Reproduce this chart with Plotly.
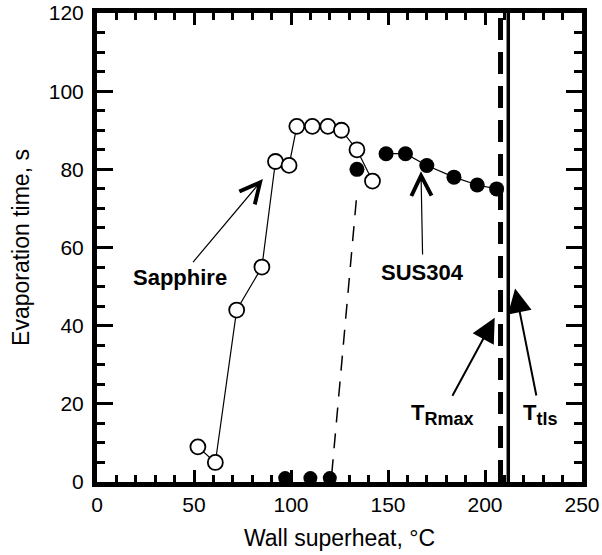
import plotly.graph_objects as go

# ---- data ----
sapphire_x = [52, 61, 72, 85, 92, 99, 103, 111, 119, 126, 134, 142]
sapphire_y = [9, 5, 44, 55, 82, 81, 91, 91, 91, 90, 85, 77]

sus_iso_x = [134]
sus_iso_y = [80]
sus_x = [149, 159, 170, 184, 196, 206]
sus_y = [84, 84, 81, 78, 76, 75]

sus_zero_x = [97, 110, 120]
sus_zero_y = [1, 1, 1]

trans_x = [121, 134]
trans_y = [2, 74]

t_rmax = 208
t_tls = 212
vline_y = [0, 120]

x_ticks = [0, 50, 100, 150, 200, 250]
y_ticks = [0, 20, 40, 60, 80, 100, 120]

FONT = "Liberation Sans, Arial, sans-serif"

fig = go.Figure()

# thin dashed transition line
fig.add_trace(go.Scatter(x=trans_x, y=trans_y, mode="lines",
                         line=dict(color="black", width=1.5, dash="15px,11px"),
                         showlegend=False, hoverinfo="skip"))

# T_Rmax dashed thick vertical
fig.add_trace(go.Scatter(x=[t_rmax, t_rmax], y=vline_y, mode="lines",
                         line=dict(color="black", width=5, dash="22px,12px"),
                         showlegend=False, hoverinfo="skip"))
# T_tls solid vertical
fig.add_trace(go.Scatter(x=[t_tls, t_tls], y=vline_y, mode="lines",
                         line=dict(color="black", width=3.5),
                         showlegend=False, hoverinfo="skip"))

# SUS304 filled markers
fig.add_trace(go.Scatter(x=sus_x, y=sus_y, mode="lines+markers",
                         line=dict(color="black", width=1.2),
                         marker=dict(symbol="circle", size=15, color="black"),
                         showlegend=False, cliponaxis=False))
fig.add_trace(go.Scatter(x=sus_iso_x, y=sus_iso_y, mode="markers",
                         marker=dict(symbol="circle", size=15, color="black"),
                         showlegend=False, cliponaxis=False))
fig.add_trace(go.Scatter(x=sus_zero_x, y=sus_zero_y, mode="markers",
                         marker=dict(symbol="circle", size=14, color="black"),
                         showlegend=False, cliponaxis=False))

# Sapphire open markers
fig.add_trace(go.Scatter(x=sapphire_x, y=sapphire_y, mode="lines+markers",
                         line=dict(color="black", width=1.2),
                         marker=dict(symbol="circle", size=15, color="white",
                                     line=dict(color="black", width=1.8)),
                         showlegend=False, cliponaxis=False))


def arrow(text, lx, ly, hx, hy, head, size, width, standoff, fsize):
    fig.add_annotation(x=hx, y=hy, ax=lx, ay=ly, xref="x", yref="y",
                       axref="x", ayref="y", showarrow=True, text=text,
                       arrowhead=head, arrowsize=size, arrowwidth=width,
                       arrowcolor="black", startstandoff=standoff,
                       font=dict(family=FONT, size=fsize, color="black"))

arrow("<b>Sapphire</b>", 42.8, 52.3, 85.5, 77.5, 5, 3.3, 1.2, 2, 22)
arrow("<b>SUS304</b>", 168, 53.6, 167, 79.5, 5, 3.3, 1.2, 4, 22)
arrow("<b>T<sub><span style='font-size:18px'>Rmax</span></sub></b>",
      178, 17.3, 205, 42, 2, 2.4, 2.0, 3, 22)
arrow("<b>T<sub><span style='font-size:18px'>tls</span></sub></b>",
      228.4, 17.3, 215.5, 49.5, 2, 2.4, 2.0, 3, 22)

axis_common = dict(showline=True, linecolor="black", linewidth=5, mirror="allticks",
                   ticks="inside", tickwidth=3, tickcolor="black",
                   showgrid=False, zeroline=False, automargin=False,
                   tickfont=dict(family=FONT, size=21, color="black"))

fig.update_xaxes(range=[0, 250], tickvals=x_ticks, ticklen=12,
                 minor=dict(ticks="inside", ticklen=7, tickwidth=3, tickcolor="black", dtick=10, tick0=0),
                 title=dict(text="Wall superheat, °C", font=dict(family=FONT, size=23, color="black"), standoff=16),
                 **axis_common)
fig.update_yaxes(range=[0, 120], tickvals=y_ticks, ticklen=16, ticklabelstandoff=4,
                 minor=dict(ticks="inside", ticklen=8, tickwidth=3, tickcolor="black", dtick=5, tick0=0),
                 title=dict(text="Evaporation time, s", font=dict(family=FONT, size=23, color="black"), standoff=14),
                 **axis_common)

fig.update_layout(width=602, height=555, plot_bgcolor="white", paper_bgcolor="white",
                  margin=dict(l=97, r=20, t=13, b=73), showlegend=False)

fig.write_html("out.html", config={"displayModeBar": False},
               post_script="document.body.style.margin='0';")
